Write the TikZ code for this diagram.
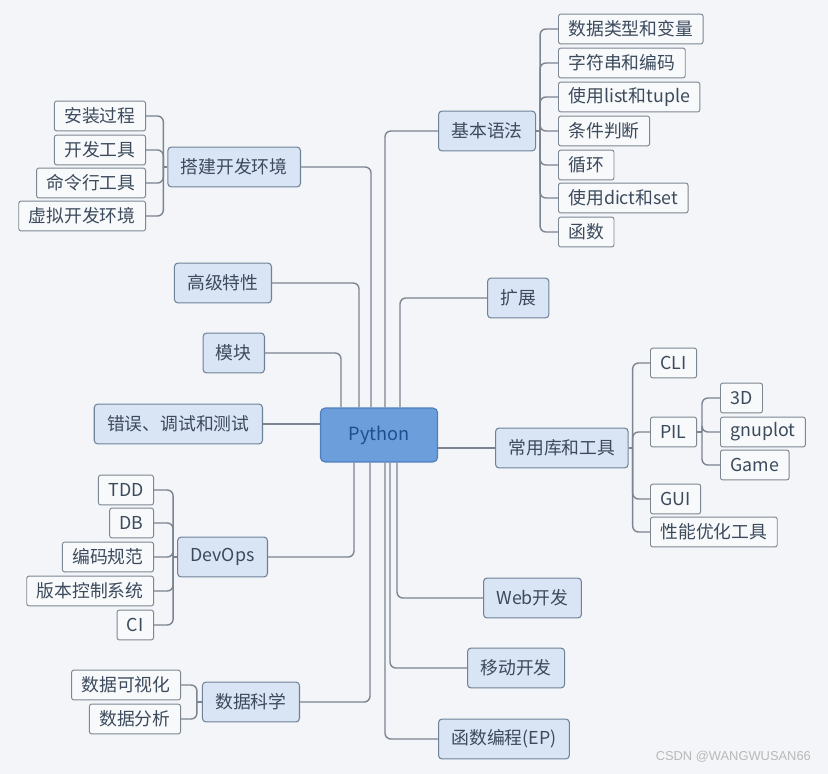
\documentclass[tikz,border=0pt]{standalone}
\usepackage{fontspec}
\setmainfont{Noto Sans CJK SC}
\newfontfamily\wmfont{Liberation Sans}
\usetikzlibrary{positioning,calc}
\definecolor{bgcol}{HTML}{F3F5F8}
\definecolor{rootfill}{HTML}{6C9EDB}
\definecolor{rootedge}{HTML}{4E7FBD}
\definecolor{roottext}{HTML}{1C4F8F}
\definecolor{branchfill}{HTML}{D9E4F5}
\definecolor{branchedge}{HTML}{6F8398}
\definecolor{leaffill}{HTML}{F8F9FB}
\definecolor{leafedge}{HTML}{7D8792}
\definecolor{linkcol}{HTML}{7B8490}
\definecolor{txtcol}{HTML}{3B4A5C}
\tikzset{
  root/.style={draw=rootedge,fill=rootfill,rounded corners=4pt,line width=1pt,minimum width=100pt,minimum height=46pt,text=roottext,font=\fontsize{15.5}{18}\selectfont},
  branch/.style={draw=branchedge,fill=branchfill,rounded corners=3pt,line width=.9pt,minimum height=34pt,inner xsep=11pt,inner ysep=0pt,text=txtcol,font=\fontsize{15.2}{18}\selectfont},
  leaf/.style={draw=leafedge,fill=leaffill,rounded corners=2pt,line width=.8pt,minimum height=25.5pt,inner xsep=8.5pt,inner ysep=0pt,text=txtcol,font=\fontsize{15.2}{18}\selectfont},
  link/.style={draw=linkcol,line width=1.2pt,rounded corners=5pt}
}
\begin{document}
\begin{tikzpicture}[x=0.03cm,y=-0.03cm]
\useasboundingbox[fill=bgcol] (0,0) rectangle (828,774);
\node[root] (py) at (379,435) {Python};
% branches
\node[branch,anchor=west] (jb) at (438,131) {基本语法};
\node[branch,anchor=east] (env) at (301,167) {搭建开发环境};
\node[branch,anchor=east] (adv) at (272,283) {高级特性};
\node[branch,anchor=east] (mod) at (265,353) {模块};
\node[branch,anchor=east] (err) at (263,424) {错误、调试和测试};
\node[branch,anchor=east] (dev) at (268,557) {DevOps};
\node[branch,anchor=east] (ds) at (300,702) {数据科学};
\node[branch,anchor=west] (ext) at (487,298) {扩展};
\node[branch,anchor=west] (lib) at (495,448) {常用库和工具};
\node[branch,anchor=west] (web) at (483,598) {Web开发};
\node[branch,anchor=west] (mob) at (467,668) {移动开发};
\node[branch,anchor=west] (fp) at (438,739) {函数编程(EP)};
% leaves
\foreach \n/\y/\t in {jb1/29/数据类型和变量,jb2/63/字符串和编码,jb3/97/使用list和tuple,jb4/131/条件判断,jb5/165/循环,jb6/198/使用dict和set,jb7/232/函数}
  \node[leaf,anchor=west] (\n) at (558,\y) {\t};
\foreach \n/\y/\t in {env1/116/安装过程,env2/150/开发工具,env3/183/命令行工具,env4/216/虚拟开发环境}
  \node[leaf,anchor=east] (\n) at (146,\y) {\t};
\foreach \n/\y/\t in {lib1/363/CLI,lib2/432/PIL,lib3/499/GUI,lib4/532/性能优化工具}
  \node[leaf,anchor=west] (\n) at (650,\y) {\t};
\foreach \n/\y/\t in {pil1/398/3D,pil2/432/gnuplot,pil3/465/Game}
  \node[leaf,anchor=west] (\n) at (720,\y) {\t};
\foreach \n/\y/\t in {dev1/490/TDD,dev2/523/DB,dev3/557/编码规范,dev4/591/版本控制系统,dev5/625/CI}
  \node[leaf,anchor=east] (\n) at (154,\y) {\t};
\foreach \n/\y/\t in {ds1/685/数据可视化,ds2/719/数据分析}
  \node[leaf,anchor=east] (\n) at (181,\y) {\t};
% root links
\draw[link] (env.east) -| ($(py.north)+(-8,0)$);
\draw[link] (jb.west) -| ($(py.north)+(6,0)$);
\draw[link] (adv.east) -| ($(py.north)+(-20,0)$);
\draw[link] (mod.east) -| ($(py.north)+(-38,0)$);
\draw[link] (ext.west) -| ($(py.north)+(21,0)$);
\draw[link] (dev.east) -| ($(py.south)+(-25,0)$);
\draw[link] (ds.east) -| ($(py.south)+(-9,0)$);
\draw[link] (fp.west) -| ($(py.south)+(6,0)$);
\draw[link] (mob.west) -| ($(py.south)+(11,0)$);
\draw[link] (web.west) -| ($(py.south)+(18,0)$);
\draw[link] (err.east) -- (err.east -| py.west);
\draw[link] (lib.west) -- (lib.west -| py.east);
% brackets
\coordinate (jbk) at ($(jb.east)+(4,0)$);
\coordinate (envk) at ($(env.west)+(-4,0)$);
\coordinate (libk) at ($(lib.east)+(4,0)$);
\coordinate (pilk) at ($(lib2.east)+(5,0)$);
\coordinate (devk) at ($(dev.west)+(-4,0)$);
\coordinate (dsk) at ($(ds.west)+(-5,0)$);
\draw[link] (jb.east) -- (jbk);\draw[link] (env.west) -- (envk);\draw[link] (lib.east) -- (libk);
\draw[link] (lib2.east) -- (pilk);\draw[link] (dev.west) -- (devk);\draw[link] (ds.west) -- (dsk);
\foreach \n in {jb1,jb2,jb3,jb4,jb5,jb6,jb7} \draw[link] (jbk) |- (\n.west);
\foreach \n in {env1,env2,env3,env4} \draw[link] (envk) |- (\n.east);
\foreach \n in {lib1,lib2,lib3,lib4} \draw[link] (libk) |- (\n.west);
\foreach \n in {pil1,pil2,pil3} \draw[link] (pilk) |- (\n.west);
\foreach \n in {dev1,dev2,dev3,dev4,dev5} \draw[link] (devk) |- (\n.east);
\foreach \n in {ds1,ds2} \draw[link] (dsk) |- (\n.east);
\node[font=\wmfont\fontsize{11}{12}\selectfont,text=gray!55,anchor=east] (wm) at (815,757) {CSDN @WANGWUSAN66};
\end{tikzpicture}
\end{document}
